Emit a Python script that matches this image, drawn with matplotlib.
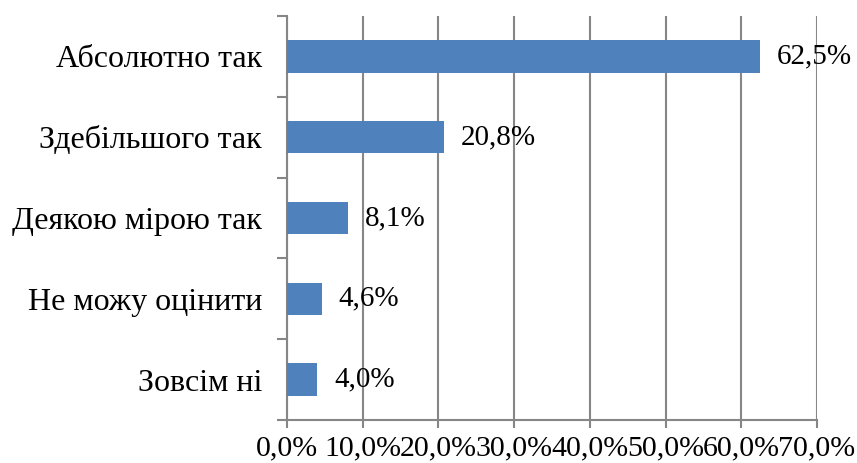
import matplotlib
matplotlib.use("Agg")
import matplotlib.pyplot as plt
from matplotlib.ticker import FixedLocator

categories = ["Абсолютно так", "Здебільшого так", "Деякою мірою так", "Не можу оцінити", "Зовсім ні"]
values = [62.5, 20.8, 8.1, 4.6, 4.0]
value_labels = ["62,5%", "20,8%", "8,1%", "4,6%", "4,0%"]
xticks = [0, 10, 20, 30, 40, 50, 60, 70]
xtick_labels = ["0,0%", "10,0%", "20,0%", "30,0%", "40,0%", "50,0%", "60,0%", "70,0%"]

plt.rcParams['font.family'] = ['Liberation Serif', 'DejaVu Serif']

fig = plt.figure(figsize=(8.57, 4.63), dpi=100)
ax = fig.add_axes([287/857, 43/463, 530/857, 404/463])

n = len(categories)
ypos = list(range(n))[::-1]
ax.barh(ypos, values, height=0.4, color="#4F81BD", zorder=3)
for y, v, lab in zip(ypos, values, value_labels):
    ax.text(v + 2.2, y, lab, va="center", ha="left", fontsize=21, zorder=4)

ax.set_xlim(0, 70)
ax.set_ylim(-0.5, n - 0.5)
ax.set_xticks(xticks)
ax.set_xticklabels(xtick_labels, fontsize=21.5)
ax.set_yticks(ypos)
ax.set_yticklabels(categories, fontsize=23)
ax.tick_params(axis="y", length=0, pad=18)
ax.yaxis.set_minor_locator(FixedLocator([i - 0.5 for i in range(n + 1)]))
ax.tick_params(axis="y", which="minor", length=7, width=1.5, color="#868686")
ax.tick_params(axis="x", length=6, width=1.5, color="#868686", pad=5)
ax.grid(axis="x", color="#868686", linewidth=1.5, zorder=0)
for s in ["top", "right"]:
    ax.spines[s].set_visible(False)
for s in ["left", "bottom"]:
    ax.spines[s].set_color("#868686")
    ax.spines[s].set_linewidth(1.5)

fig.savefig("out.png", dpi=100)
